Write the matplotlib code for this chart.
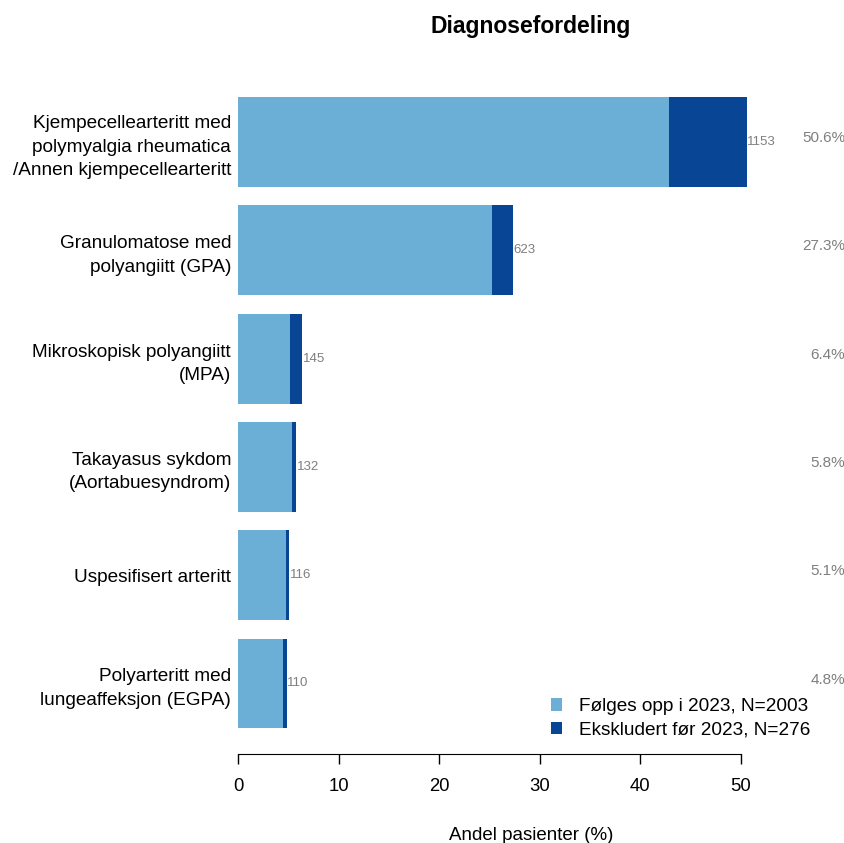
import numpy as np
import matplotlib
matplotlib.use('Agg')
import matplotlib.pyplot as plt

plt.rcParams['font.family'] = ['Liberation Sans', 'DejaVu Sans']

# Data
kategorier = ['Kjempecellearteritt med\npolymyalgia rheumatica\n/Annen kjempecellearteritt',
              'Granulomatose med\npolyangiitt (GPA)',
              'Mikroskopisk polyangiitt\n(MPA)',
              'Takayasus sykdom\n(Aortabuesyndrom)',
              'Uspesifisert arteritt',
              'Polyarteritt med\nlungeaffeksjon (EGPA)']
folges_opp = np.array([976, 576, 118, 122, 109, 102])
ekskludert = np.array([177, 47, 27, 10, 7, 8])
xticks = [0, 10, 20, 30, 40, 50]

N = folges_opp.sum() + ekskludert.sum()
andel_1 = folges_opp / N * 100
andel_2 = ekskludert / N * 100
totalt = folges_opp + ekskludert
andel_tot = totalt / N * 100

lys = '#6BAED6'
mork = '#084594'

W, H = 844, 843
fig = plt.figure(figsize=(W / 100, H / 100), dpi=100)
ax = fig.add_axes([238 / W, 1 - 754 / H, (770 - 238) / W, (754 - 80) / H])

y = np.arange(len(kategorier))
ax.barh(y, andel_1, height=0.83, color=lys, label='Følges opp i 2023, N=%d' % folges_opp.sum())
ax.barh(y, andel_2, left=andel_1, height=0.83, color=mork,
        label='Ekskludert før 2023, N=%d' % ekskludert.sum())

ax.set_xlim(0, 52.9)
ax.set_ylim(5.651, -0.572)

# tall ved enden av stolpene
for i in range(len(y)):
    ax.text(andel_tot[i] + 0.05, y[i], str(totalt[i]), color='#7f7f7f',
            fontsize=9.5, va='center', ha='left')
    ax.text(845 / W, 1 - (142 + i * 108.3 - 4) / H, '%.1f%%' % andel_tot[i],
            transform=fig.transFigure, color='#7f7f7f', fontsize=11,
            ha='right', va='center')

ax.set_yticks(y)
ax.set_yticklabels(kategorier, fontsize=13.7, linespacing=1.5)
ax.tick_params(axis='y', length=0, pad=5)

ax.set_xticks(xticks)
ax.tick_params(axis='x', labelsize=13.3, length=7, pad=10, width=1)
for s in ['top', 'right', 'left']:
    ax.spines[s].set_visible(False)
ax.spines['bottom'].set_bounds(0, 50)

fig.text(531 / W, 1 - 26 / H, 'Diagnosefordeling', fontsize=16.5, fontweight='bold',
         ha='center', va='center')
fig.text(531 / W, 1 - 836 / H, 'Andel pasienter (%)', fontsize=13.5, ha='center', va='center')

ax.legend(loc='lower right', bbox_to_anchor=(828 / W, 1 - 756 / H),
          bbox_transform=fig.transFigure, frameon=False, fontsize=13.7,
          handlelength=0.6, handleheight=0.6, handletextpad=0.9, labelspacing=0.35)

fig.savefig('out.png', dpi=100)
